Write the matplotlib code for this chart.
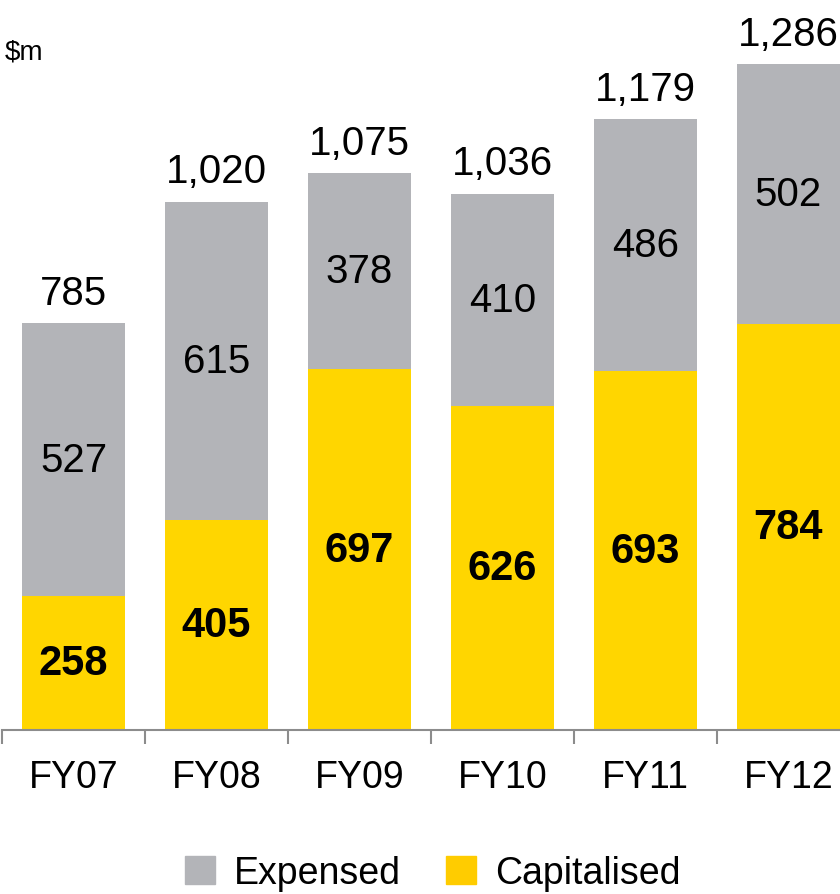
import matplotlib.pyplot as plt
from matplotlib.patches import Patch

plt.rcParams['font.family'] = ['Liberation Sans', 'DejaVu Sans']

years = ["FY07", "FY08", "FY09", "FY10", "FY11", "FY12"]
capitalised = [258, 405, 697, 626, 693, 784]
expensed = [527, 615, 378, 410, 486, 502]
totals = ["785", "1,020", "1,075", "1,036", "1,179", "1,286"]

yellow = "#FFD600"
grey = "#B3B4B8"

fig = plt.figure(figsize=(8.4, 8.95), dpi=100)
ax = fig.add_axes([2 / 840, 164 / 895, 858 / 840, 725 / 895])

x = list(range(len(years)))
ax.bar(x, capitalised, width=0.72, color=yellow)
ax.bar(x, expensed, width=0.72, bottom=capitalised, color=grey)

for i in x:
    c = capitalised[i]
    e = expensed[i]
    ax.text(i, c / 2, str(c), ha="center", va="center", fontsize=30, fontweight="bold")
    ax.text(i, c + e / 2, str(e), ha="center", va="center", fontsize=29)
    ax.text(i, c + e + 22, totals[i], ha="center", va="bottom", fontsize=29)

ax.set_xlim(-0.5, len(years) - 0.5)
ax.set_ylim(0, 1400)
ax.set_xticks(x)
ax.set_xticklabels(years, fontsize=27)
ax.set_xticks([i - 0.5 for i in range(len(years) + 1)], minor=True)
ax.tick_params(axis="x", which="major", length=0, pad=21)
ax.tick_params(axis="x", which="minor", length=10, width=1.5, color="#8C8C8C")
ax.set_yticks([])
for side in ["left", "right", "top"]:
    ax.spines[side].set_visible(False)
ax.spines["bottom"].set_color("#8C8C8C")
ax.spines["bottom"].set_linewidth(1.5)

fig.text(5 / 840, 1 - 52 / 895, "$m", fontsize=20, va="center", ha="left")

handles = [Patch(color=grey, label="Expensed"), Patch(color="#FFCC00", label="Capitalised")]
fig.legend(handles=handles, loc="center", bbox_to_anchor=(433 / 840, 1 - 874 / 895), ncol=2,
           frameon=False, fontsize=27, handlelength=0.8, handleheight=0.8,
           handletextpad=0.5, columnspacing=1.2)

fig.savefig("out.png", dpi=100)
